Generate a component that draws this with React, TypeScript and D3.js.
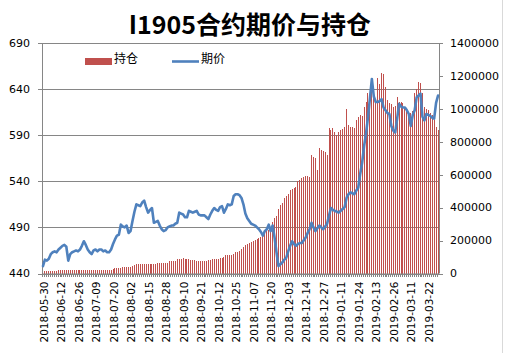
import * as d3 from 'd3';
import React from 'react';

// I1905 contract: settlement price (left axis) and open interest (right axis)
const startDate = '2018-05-30';
const dayCount = 204;
const holidays = [
  '2018-06-18', '2018-09-24', '2018-10-01', '2018-10-02', '2018-10-03', '2018-10-04', '2018-10-05',
  '2018-12-31', '2019-01-01', '2019-02-04', '2019-02-05', '2019-02-06', '2019-02-07', '2019-02-08',
];

const price = [
  448, 455, 454, 456, 461, 463, 464, 463, 466, 468,
  470, 471, 469, 454, 461, 463, 464, 465, 464, 466,
  470, 475, 471, 466, 463, 461, 465, 466, 464, 466,
  466, 464, 465, 463, 463, 466, 472, 477, 481, 482,
  493, 491, 490, 492, 484, 486, 497, 507, 515, 514,
  513, 517, 519, 512, 506, 509, 511, 495, 496, 497,
  492, 488, 486, 487, 490, 491, 492, 492, 494, 495,
  506, 505, 504, 501, 501, 508, 507, 506, 507, 508,
  504, 503, 503, 503, 501, 499, 504, 508, 511, 509,
  508, 512, 513, 506, 510, 515, 514, 515, 524, 526,
  526, 525, 522, 515, 505, 500, 497, 494, 493, 492,
  490, 488, 485, 481, 486, 488, 493, 486, 492, 479,
  463, 448, 450, 452, 455, 457, 464, 470, 475, 472,
  470, 472, 473, 473, 476, 479, 484, 488, 495, 490,
  486, 489, 492, 490, 488, 491, 494, 503, 511, 509,
  508, 507, 506, 508, 510, 512, 522, 526, 528, 527,
  526, 530, 533, 548, 560, 578, 592, 609, 630, 651,
  632, 626, 626, 627, 629, 620, 617, 614, 613, 600,
  595, 593, 608, 624, 621, 620, 620, 617, 613, 600,
  612, 617, 631, 633, 635, 610, 606, 613, 612, 611,
  609, 608, 625, 633,
];

const openInterest = [
  15000, 15000, 16000, 16000, 17000, 17000, 18000, 18000, 19000, 19000,
  19000, 20000, 20000, 20000, 20000, 21000, 21000, 21000, 22000, 22000,
  22000, 23000, 24000, 22000, 22000, 22000, 23000, 23000, 23000, 22000,
  22000, 21000, 21000, 21000, 22000, 24000, 28000, 33000, 35000, 36000,
  36000, 37000, 38000, 41000, 42000, 42000, 43000, 52000, 55000, 56000,
  56000, 56000, 55000, 55000, 55000, 56000, 57000, 57000, 60000, 62000,
  63000, 62000, 63000, 64000, 66000, 75000, 78000, 77000, 78000, 86000,
  88000, 90000, 92000, 90000, 88000, 86000, 84000, 82000, 80000, 78000,
  77000, 76000, 76000, 77000, 78000, 79000, 80000, 88000, 90000, 91000,
  90000, 92000, 96000, 100000, 112000, 113000, 114000, 115000, 118000, 128000,
  132000, 135000, 150000, 159000, 172000, 179000, 183000, 190000, 200000, 205000,
  212000, 214000, 220000, 240000, 250000, 258000, 264000, 275000, 310000, 335000,
  350000, 390000, 416000, 430000, 460000, 470000, 480000, 505000, 515000, 517000,
  525000, 560000, 570000, 578000, 585000, 590000, 590000, 588000, 720000, 705000,
  700000, 629000, 760000, 750000, 745000, 735000, 720000, 882000, 870000, 885000,
  860000, 841000, 860000, 870000, 880000, 890000, 997000, 900000, 892000, 890000,
  885000, 930000, 952000, 963000, 955000, 1013000, 1040000, 1094000, 1044000, 1134000,
  1100000, 1054000, 1186000, 1150000, 1216000, 1210000, 1134000, 1054000, 1035000, 1030000,
  1013000, 1020000, 1074000, 1044000, 1040000, 1035000, 1013000, 1000000, 983000, 972000,
  990000, 1094000, 1120000, 1165000, 1160000, 1094000, 1013000, 1000000, 993000, 972000,
  960000, 932000, 892000, 872000,
];

const priceTicks = [440, 490, 540, 590, 640, 690];
const oiTicks = [0, 200000, 400000, 600000, 800000, 1000000, 1200000, 1400000];
const labelEvery = 9;

function tradingDays(start: string, n: number) {
  const fmt = d3.utcFormat('%Y-%m-%d');
  const out: string[] = [];
  let d = new Date(start + 'T00:00:00Z');
  while (out.length < n) {
    const s = fmt(d);
    const wd = d.getUTCDay();
    if (wd !== 0 && wd !== 6 && !holidays.includes(s)) out.push(s);
    d = d3.utcDay.offset(d, 1);
  }
  return out;
}

const dates = tradingDays(startDate, dayCount);

const W = 505, H = 353;
const plot = { left: 42, right: 439, top: 43, bottom: 273.5 };
const axisFont = 'DejaVu Sans, Verdana, sans-serif';
const cjkFont = '"Noto Sans CJK SC", sans-serif';

export default function App() {
  const x = d3.scaleBand<string>().domain(dates).range([plot.left, plot.right]).paddingInner(0.45).paddingOuter(0.225);
  const step = x.step();
  const cx = (d: string) => (x(d) as number) + x.bandwidth() / 2;
  const yPrice = d3.scaleLinear().domain([440, 690]).range([plot.bottom, plot.top]);
  const yOI = d3.scaleLinear().domain([0, 1400000]).range([plot.bottom, plot.top]);

  const line = d3.line<number>()
    .x((_, i) => cx(dates[i]))
    .y(d => yPrice(d))
    .curve(d3.curveLinear);

  return (
    <svg width={W} height={H} style={{ position: 'absolute', left: 0, top: 0, background: '#fff' }}>
      <rect x={0} y={0} width={W} height={H} fill="#fff" />
      <line x1={502.5} x2={502.5} y1={0} y2={H} stroke="#d9d9d9" />

      <text x={250} y={34} textAnchor="middle" fontFamily={cjkFont} fontWeight="bold" fontSize={25} fill="#000">
        I1905合约期价与持仓
      </text>

      {/* gridlines */}
      {priceTicks.map(t => (
        <line key={'g' + t} x1={plot.left} x2={plot.right} y1={Math.round(yPrice(t)) + 0.5} y2={Math.round(yPrice(t)) + 0.5} stroke="#868686" strokeWidth={1} />
      ))}

      {/* bars */}
      <g shapeRendering="crispEdges">
        {openInterest.map((v, i) => (
          <rect key={dates[i]} x={Math.round(cx(dates[i]) - 0.5)} y={Math.round(yOI(v))} width={1}
            height={Math.round(plot.bottom) - Math.round(yOI(v))} fill="#C0504D" />
        ))}
      </g>

      {/* axes */}
      <line x1={plot.left + 0.5} x2={plot.left + 0.5} y1={plot.top} y2={plot.bottom} stroke="#868686" />
      <line x1={plot.right + 0.5} x2={plot.right + 0.5} y1={plot.top} y2={plot.bottom} stroke="#868686" />
      <line x1={plot.left} x2={plot.right} y1={plot.bottom + 0.5} y2={plot.bottom + 0.5} stroke="#868686" />
      <g shapeRendering="crispEdges">
        {dates.map((d, i) => (
          <line key={'t' + d} x1={Math.round(plot.left + i * step) + 0.5} x2={Math.round(plot.left + i * step) + 0.5} y1={plot.bottom} y2={plot.bottom + 3.5} stroke="#868686" />
        ))}
      </g>
      {priceTicks.map(t => (
        <g key={'l' + t}>
          <line x1={plot.left - 4} x2={plot.left} y1={Math.round(yPrice(t)) + 0.5} y2={Math.round(yPrice(t)) + 0.5} stroke="#868686" />
          <text x={30} y={yPrice(t)} dy="0.35em" textAnchor="end" fontFamily={axisFont} fontSize={11} fill="#000">{t}</text>
        </g>
      ))}
      {oiTicks.map(t => (
        <g key={'r' + t}>
          <line x1={plot.right} x2={plot.right + 4} y1={Math.round(yOI(t)) + 0.5} y2={Math.round(yOI(t)) + 0.5} stroke="#868686" />
          <text x={450} y={yOI(t)} dy="0.35em" textAnchor="start" fontFamily={axisFont} fontSize={11} fill="#000">{t}</text>
        </g>
      ))}
      {dates.filter((_, i) => i % labelEvery === 0).map(d => (
        <text key={'x' + d} transform={`translate(${cx(d) + 1},${plot.bottom + 8}) rotate(-90)`} dy="0.35em" textAnchor="end"
          fontFamily={axisFont} fontSize={10.5} fill="#000">{d}</text>
      ))}

      {/* price line */}
      <path d={line(price) || ''} fill="none" stroke="#4F81BD" strokeWidth={2.6} strokeLinejoin="round" strokeLinecap="round" />

      {/* legend */}
      <rect x={85} y={58} width={27} height={7} fill="#C0504D" />
      <text x={114} y={59} dy="0.35em" fontFamily={cjkFont} fontSize={12} fill="#000">持仓</text>
      <line x1={172} x2={199} y1={61.5} y2={61.5} stroke="#4F81BD" strokeWidth={2.6} />
      <text x={201} y={59} dy="0.35em" fontFamily={cjkFont} fontSize={12} fill="#000">期价</text>
    </svg>
  );
}
